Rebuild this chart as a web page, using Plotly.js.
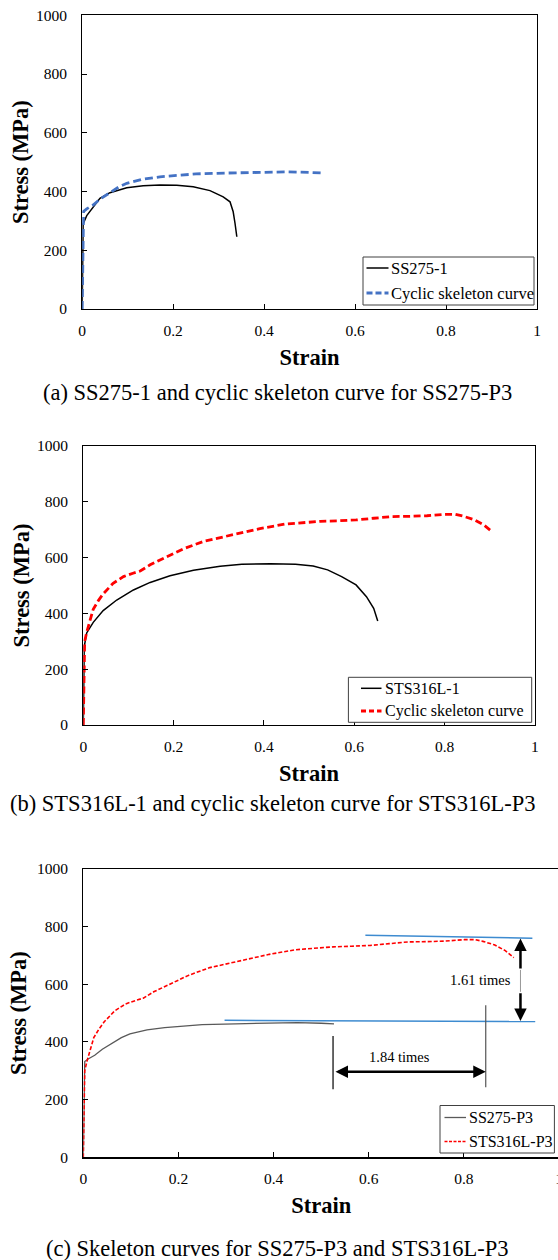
<!DOCTYPE html>
<html><head><meta charset="utf-8">
<script src="https://cdn.plot.ly/plotly-3.0.1.min.js"></script>
<style>
html,body{margin:0;padding:0;overflow:hidden;background:#fff;width:558px;height:1260px}
#chart{width:600px;height:1260px}
</style>
</head><body><div id="chart"></div>
<script>
// ---------- DATA ----------
const ss275_1_strain = [0, 0.002, 0.01, 0.024, 0.039, 0.061, 0.08, 0.098, 0.134, 0.171, 0.208, 0.244, 0.281, 0.31, 0.325, 0.332, 0.336, 0.34];
const ss275_1_stress = [0, 290, 318, 348, 377, 396, 406, 413, 420, 422, 421, 416, 403, 382, 365, 331, 292, 246];

const ss275_p3_strain = [0, 0.003, 0.01, 0.024, 0.04, 0.061, 0.08, 0.098, 0.134, 0.171, 0.21, 0.25, 0.32, 0.39, 0.45, 0.5, 0.527];
const ss275_p3_stress = [0, 332, 341, 354, 375, 397, 415, 428, 442, 450, 456, 460, 463, 465, 467, 465, 463];

const sts316l_1_strain = [0, 0.002, 0.0075, 0.022, 0.044, 0.074, 0.111, 0.148, 0.192, 0.244, 0.303, 0.351, 0.415, 0.47, 0.509, 0.541, 0.572, 0.604, 0.627, 0.643, 0.652];
const sts316l_1_stress = [0, 280, 330, 368, 410, 448, 484, 511, 535, 555, 569, 576, 578, 576, 570, 556, 532, 502, 460, 418, 373];

const sts316l_p3_strain = [0, 0.003, 0.008, 0.015, 0.022, 0.033, 0.044, 0.066, 0.089, 0.11, 0.126, 0.148, 0.185, 0.221, 0.266, 0.318, 0.391, 0.446, 0.485, 0.525, 0.564, 0.604, 0.643, 0.682, 0.722, 0.761, 0.801, 0.824, 0.84, 0.864, 0.887, 0.905];
const sts316l_p3_stress = [0, 300, 335, 380, 415, 445, 470, 508, 532, 544, 552, 574, 604, 631, 658, 677, 704, 720, 726, 730, 732, 735, 741, 747, 748, 750, 755, 755, 749, 737, 717, 693];

const xTickVals = [0, 0.2, 0.4, 0.6, 0.8, 1];
const yTickVals = [0, 200, 400, 600, 800, 1000];

const legendA = ['SS275-1', 'Cyclic skeleton curve'];
const legendB = ['STS316L-1', 'Cyclic skeleton curve'];
const legendC = ['SS275-P3', 'STS316L-P3'];

const captions = [
  '(a) SS275-1 and cyclic skeleton curve for SS275-P3',
  '(b) STS316L-1 and cyclic skeleton curve for STS316L-P3',
  '(c) Skeleton curves for SS275-P3 and STS316L-P3'
];

// comparison marks in panel (c)
const ultimateLevels = {upper: [[0.593, 770], [0.944, 760]], lower: [[0.297, 475], [0.95, 471]]};
const ratioTexts = ['1.61 times', '1.84 times'];

// ---------- LAYOUT ----------
const W = 600, H = 1260;
const fx = p => p / W;
const fy = p => 1 - p / H;
const SERIF = 'Liberation Serif, Times New Roman, serif';

function xAxis(l, r, anchor) {
  return {
    domain: [fx(l), fx(r)], anchor: anchor, range: [0, 1],
    tickmode: 'array', tickvals: xTickVals,
    ticks: 'inside', ticklen: 5, tickwidth: 1, tickcolor: '#000',
    showline: true, linecolor: '#000', linewidth: 1.2, mirror: true,
    showgrid: false, zeroline: false, fixedrange: true,
    tickfont: {family: SERIF, size: 15.5, color: '#000'},
    ticklabelstandoff: 7,
    title: {text: 'Strain', font: {family: SERIF, size: 22.5, color: '#000', weight: 'bold'}, standoff: 11}
  };
}
function yAxis(t, b, anchor, so) {
  return {
    domain: [fy(b), fy(t)], anchor: anchor, range: [0, 1000],
    tickmode: 'array', tickvals: yTickVals,
    ticks: 'inside', ticklen: 5, tickwidth: 1, tickcolor: '#000',
    showline: true, linecolor: '#000', linewidth: 1.2, mirror: true,
    showgrid: false, zeroline: false, fixedrange: true,
    tickfont: {family: SERIF, size: 15.5, color: '#000'},
    ticklabelstandoff: 11,
    title: {text: 'Stress (MPa)', font: {family: SERIF, size: 22.5, color: '#000', weight: 'bold'}, standoff: so}
  };
}

const traces = [
  {x: ss275_1_strain, y: ss275_1_stress, xaxis: 'x', yaxis: 'y', mode: 'lines', name: legendA[0],
   line: {color: '#000', width: 1.5}},
  {x: ss275_p3_strain, y: ss275_p3_stress, xaxis: 'x', yaxis: 'y', mode: 'lines', name: legendA[1],
   line: {color: '#4472C4', width: 2.8, dash: '8px,4px'}},
  {x: sts316l_1_strain, y: sts316l_1_stress, xaxis: 'x2', yaxis: 'y2', mode: 'lines', name: legendB[0],
   line: {color: '#000', width: 1.5}},
  {x: sts316l_p3_strain, y: sts316l_p3_stress, xaxis: 'x2', yaxis: 'y2', mode: 'lines', name: legendB[1],
   line: {color: '#FF0000', width: 2.8, dash: '7px,3.5px'}},
  {x: ss275_p3_strain, y: ss275_p3_stress, xaxis: 'x3', yaxis: 'y3', mode: 'lines', name: legendC[0],
   line: {color: '#595959', width: 1.3}},
  {x: sts316l_p3_strain, y: sts316l_p3_stress, xaxis: 'x3', yaxis: 'y3', mode: 'lines', name: legendC[1],
   line: {color: '#FF0000', width: 1.6, dash: '4px,2px'}}
];
traces.forEach(t => { t.showlegend = false; t.hoverinfo = 'skip'; });

const shapes = [];
const annotations = [];

// manual legends (box, line samples, labels)
function legend(box, rows, lineX, textX, names, styles, fontSize) {
  shapes.push({type: 'rect', xref: 'paper', yref: 'paper', x0: fx(box[0]), x1: fx(box[1]), y0: fy(box[3]), y1: fy(box[2]),
    line: {color: '#404040', width: 1}, fillcolor: '#fff', layer: 'above'});
  names.forEach((n, i) => {
    shapes.push({type: 'line', xref: 'paper', yref: 'paper', x0: fx(lineX[0]), x1: fx(lineX[1]), y0: fy(rows[i]), y1: fy(rows[i]),
      line: styles[i], layer: 'above'});
    annotations.push({xref: 'paper', yref: 'paper', x: fx(textX), y: fy(rows[i]), xanchor: 'left', yanchor: 'middle',
      text: n, showarrow: false, font: {family: SERIF, size: fontSize, color: '#000'}});
  });
}
legend([363, 534, 257, 305], [268, 293], [366.5, 388.5], [388.5], legendA,
  [{color: '#000', width: 1.5}, {color: '#4472C4', width: 2.8, dash: '6px,3px'}], 16.5);
legend([348.4, 531.7, 677.3, 722.3], [688.3, 711], [361, 381.5], [382.5], legendB,
  [{color: '#000', width: 1.5}, {color: '#FF0000', width: 2.8, dash: '5px,3px'}], 16);
legend([440, 554.4, 1105.5, 1153], [1117.5, 1141.5], [444.5, 466], [466.5], legendC,
  [{color: '#595959', width: 1.3}, {color: '#FF0000', width: 1.6, dash: '3px,1.5px'}], 16);

// captions
[[captions[0], 277, 392], [captions[1], 272.5, 803.5], [captions[2], 277, 1248]].forEach(c => {
  annotations.push({xref: 'paper', yref: 'paper', x: fx(c[1]), y: fy(c[2]), xanchor: 'center', yanchor: 'middle',
    text: c[0], showarrow: false, font: {family: SERIF, size: 22.5, color: '#000'}});
});

// panel (c) comparison marks
const blue = '#3D8BD0';
shapes.push({type: 'line', xref: 'x3', yref: 'y3', x0: ultimateLevels.upper[0][0], y0: ultimateLevels.upper[0][1],
  x1: ultimateLevels.upper[1][0], y1: ultimateLevels.upper[1][1], line: {color: blue, width: 1.5}});
shapes.push({type: 'line', xref: 'x3', yref: 'y3', x0: ultimateLevels.lower[0][0], y0: ultimateLevels.lower[0][1],
  x1: ultimateLevels.lower[1][0], y1: ultimateLevels.lower[1][1], line: {color: blue, width: 1.5}});
// fracture strain markers
shapes.push({type: 'line', xref: 'x3', yref: 'y3', x0: 0.525, x1: 0.525, y0: 236, y1: 421, line: {color: '#000', width: 1.2}});
shapes.push({type: 'line', xref: 'x3', yref: 'y3', x0: 0.846, x1: 0.846, y0: 243, y1: 527, line: {color: '#555', width: 1.2}});
// thin middle part of the vertical arrow
shapes.push({type: 'line', xref: 'x3', yref: 'y3', x0: 0.919, x1: 0.919, y0: 574, y1: 650, line: {color: '#999', width: 1}});

const arrowBase = {xref: 'x3', yref: 'y3', axref: 'x3', ayref: 'y3', text: '', showarrow: true,
  arrowhead: 2, arrowsize: 1, arrowwidth: 2.5, arrowcolor: '#000'};
annotations.push(Object.assign({}, arrowBase, {x: 0.919, y: 759, ax: 0.919, ay: 650}));
annotations.push(Object.assign({}, arrowBase, {x: 0.919, y: 473, ax: 0.919, ay: 574}));
annotations.push(Object.assign({}, arrowBase, {x: 0.846, y: 297, ax: 0.527, ay: 297, arrowside: 'end+start', startarrowhead: 2, startarrowsize: 1}));

annotations.push({xref: 'x3', yref: 'y3', x: 0.835, y: 616, text: ratioTexts[0], showarrow: false,
  font: {family: SERIF, size: 14.5, color: '#000'}});
annotations.push({xref: 'x3', yref: 'y3', x: 0.665, y: 349, text: ratioTexts[1], showarrow: false,
  font: {family: SERIF, size: 14.5, color: '#000'}});

const layout = {
  width: W, height: H, margin: {l: 0, r: 0, t: 0, b: 0},
  paper_bgcolor: '#fff', plot_bgcolor: 'rgba(0,0,0,0)', showlegend: false,
  xaxis: xAxis(82.2, 537, 'y'), yaxis: yAxis(15.3, 309, 'x', 1),
  xaxis2: xAxis(83.3, 534.9, 'y2'), yaxis2: yAxis(446, 725, 'x2', 1),
  xaxis3: xAxis(83.3, 559, 'y3'), yaxis3: yAxis(869, 1157.3, 'x3', 4),
  shapes: shapes, annotations: annotations
};

Plotly.newPlot('chart', traces, layout, {staticPlot: true, displayModeBar: false});
</script>
</body></html>
